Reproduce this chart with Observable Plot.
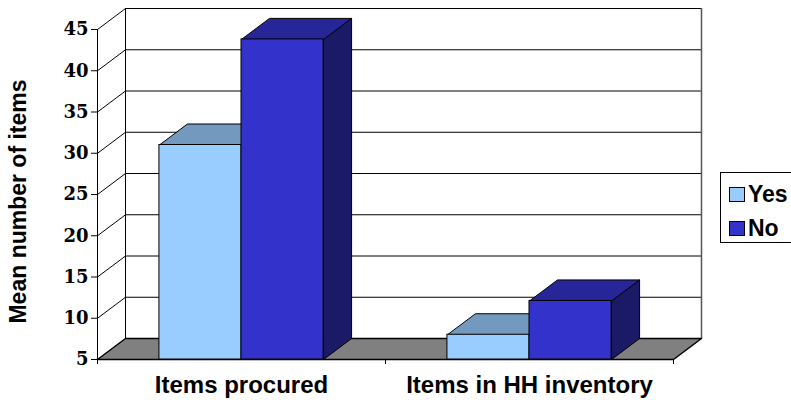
<!DOCTYPE html>
<html>
<head>
<meta charset="utf-8">
<script src="https://cdn.jsdelivr.net/npm/d3@7"></script>
<script src="https://cdn.jsdelivr.net/npm/@observablehq/plot@0.6"></script>
<style>
  html, body { margin: 0; padding: 0; background: #fff; overflow: hidden; }
  #wrap { position: relative; width: 791px; height: 400px; overflow: hidden; }
  #legend { position: absolute; left: 720px; top: 172px; width: 90px; height: 71px;
    border: 1px solid #000; box-sizing: border-box; background: #fff;
    font-family: "Liberation Sans", Arial, sans-serif; font-weight: bold; font-size: 23px; }
  .item { position: absolute; left: 8px; display: flex; align-items: center; height: 24px; }
  .sw { width: 14px; height: 13px; border: 1px solid #000; margin-right: 3px; }
</style>
</head>
<body>
<div id="wrap"></div>
<script>
// ---- data ----
const CATEGORIES = ["Items procured", "Items in HH inventory"];
const SERIES = ["Yes", "No"];
const YES_VALUES = [31.0, 8.0];
const NO_VALUES = [43.8, 12.1];
const Y_TICKS = [5, 10, 15, 20, 25, 30, 35, 40, 45];
const Y_LABEL = "Mean number of items";

// ---- styling / geometry params ----
const FRONT = {Yes: "#99CCFF", No: "#3333CC"};
const TOP = {Yes: "#7399BF", No: "#262699"};
const SIDE = {Yes: "#4C6680", No: "#1A1A66"};
const FLOOR = "#808080";
const BAR_W = 0.285;          // in category units
const DX = 28 / 288;          // depth offset, category units
const DY = 21 / 8.25;         // depth offset, value units
const Y0 = Y_TICKS[0], Y1 = Y_TICKS[Y_TICKS.length - 1];
const N = CATEGORIES.length;

const bars = [];
CATEGORIES.forEach((c, i) => {
  bars.push({cat: c, series: "Yes", x1: i + 0.5 - BAR_W, x2: i + 0.5, v: YES_VALUES[i]});
  bars.push({cat: c, series: "No", x1: i + 0.5, x2: i + 0.5 + BAR_W, v: NO_VALUES[i]});
});

const tops = [], sides = [];
bars.forEach((b, k) => {
  const id = k;
  [[b.x1, b.v], [b.x2, b.v], [b.x2 + DX, b.v + DY], [b.x1 + DX, b.v + DY], [b.x1, b.v]]
    .forEach(([x, y]) => tops.push({id, series: b.series, x, y}));
  [[b.x2, Y0], [b.x2, b.v], [b.x2 + DX, b.v + DY], [b.x2 + DX, Y0 + DY], [b.x2, Y0]]
    .forEach(([x, y]) => sides.push({id, series: b.series, x, y}));
});
const floor = [[0, Y0], [N, Y0], [N + DX, Y0 + DY], [DX, Y0 + DY], [0, Y0]].map(([x, y]) => ({x, y}));
const inner = Y_TICKS.filter(v => v > Y0);

const face = (data, s, colors) => Plot.line(data.filter(d => d.series === s),
  {x: "x", y: "y", z: "id", fill: colors[s], stroke: "#000", strokeWidth: 1, curve: "linear"});

const chart = Plot.plot({
  width: 791, height: 400,
  marginLeft: 97, marginRight: 118, marginTop: 29, marginBottom: 41,
  x: {domain: [0, N]},
  y: {domain: [Y0, Y1]},
  style: {background: "#fff", overflow: "visible"},
  marks: [
    // back wall gridlines and edges
    Plot.ruleY(inner, {y: v => v + DY, x1: DX, x2: N + DX, stroke: "#000", strokeWidth: 1}),
    Plot.ruleX([DX], {y1: Y0 + DY, y2: Y1 + DY, stroke: "#000"}),
    Plot.ruleX([N + DX], {y1: Y0 + DY, y2: Y1 + DY, stroke: "#555", strokeWidth: 1.5}),
    // side wall
    Plot.link(inner, {x1: 0, y1: v => v, x2: DX, y2: v => v + DY, stroke: "#000"}),
    Plot.ruleX([0], {y1: Y0, y2: Y1, stroke: "#000"}),
    // floor
    Plot.line(floor, {x: "x", y: "y", fill: FLOOR, stroke: "#000"}),
    // bars
    face(sides, "Yes", SIDE), face(sides, "No", SIDE),
    face(tops, "Yes", TOP), face(tops, "No", TOP),
    Plot.rect(bars.filter(b => b.series === "Yes"), {x1: "x1", x2: "x2", y1: Y0, y2: "v", fill: FRONT.Yes, stroke: "#000"}),
    Plot.rect(bars.filter(b => b.series === "No"), {x1: "x1", x2: "x2", y1: Y0, y2: "v", fill: FRONT.No, stroke: "#000"}),
    // axes
    Plot.axisY({ticks: Y_TICKS, tickSize: 6, tickPadding: 3, label: null,
      fontFamily: "DejaVu Serif", fontSize: 18, fontWeight: "bold", stroke: "#000"}),
    Plot.axisX({ticks: d3.range(N + 1), tickSize: 5, tickFormat: () => "", label: null}),
    Plot.axisX({ticks: CATEGORIES.map((c, i) => i + 0.5), tickSize: 0, tickPadding: 16,
      tickFormat: t => CATEGORIES[Math.round(t - 0.5)], label: null,
      fontFamily: "Liberation Sans", fontSize: 24, fontWeight: "bold"}),
    Plot.ruleY([Y0], {x1: 0, x2: N, stroke: "#000"}),
    Plot.text([Y_LABEL], {frameAnchor: "left", textAnchor: "middle", rotate: -90, dx: -79, dy: 7,
      fontFamily: "Liberation Sans", fontSize: 23, fontWeight: "bold", fill: "#000"})
  ]
});
const wrap = document.getElementById("wrap");
wrap.appendChild(chart);

const legend = document.createElement("div");
legend.id = "legend";
SERIES.forEach((s, i) => {
  const it = document.createElement("div");
  it.className = "item";
  it.style.top = (i === 0 ? 9 : 43) + "px";
  it.innerHTML = `<span class="sw" style="background:${FRONT[s]}"></span><span>${s}</span>`;
  legend.appendChild(it);
});
wrap.appendChild(legend);
</script>
</body>
</html>
